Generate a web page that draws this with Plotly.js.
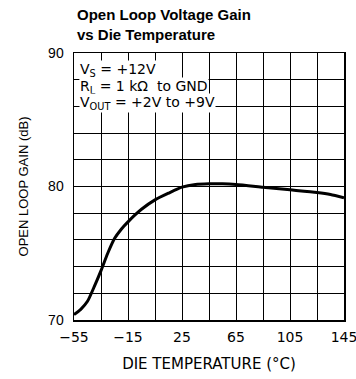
<!DOCTYPE html>
<html>
<head>
<meta charset="utf-8">
<script src="https://cdn.plot.ly/plotly-3.0.1.min.js"></script>
<style>html,body{margin:0;padding:0;background:#fff;}#chart{width:356px;height:379px;}</style>
</head>
<body>
<div id="chart"></div>
<script>
// Data
var temperature = [-55, -50, -45, -40, -35, -30, -25, -20, -15, -10, -5, 5, 15, 25, 35, 45, 55, 65, 85, 105, 125, 135, 145];
var gainDb      = [70.4, 70.8, 71.4, 72.5, 73.7, 75.0, 76.1, 76.8, 77.35, 77.85, 78.3, 79.0, 79.5, 79.95, 80.15, 80.2, 80.2, 80.15, 79.95, 79.75, 79.55, 79.4, 79.15];
var xTickVals = [-55, -15, 25, 65, 105, 145];
var xTickText = ['\u221255', '\u221215', '25', '65', '105', '145'];
var yTickVals = [70, 80, 90];
var titleText = '<b>Open Loop Voltage Gain<br>vs Die Temperature</b>';
var conditions = ['V<sub>S</sub> = +12V', 'R<sub>L</sub> = 1 k\u03A9  to GND', 'V<sub>OUT</sub> = +2V to +9V'];

var stroke = 'DejaVu Sans, sans-serif';
var arial = 'Liberation Sans, Arial, sans-serif';

var trace = {
  x: temperature, y: gainDb, type: 'scatter', mode: 'lines',
  line: {color: '#000', width: 3, shape: 'spline', smoothing: 0.6},
  hoverinfo: 'skip'
};

var condY = [0.936, 0.873, 0.812];
var annotations = conditions.map(function (t, i) {
  return {
    xref: 'paper', yref: 'paper', x: 0.02, y: condY[i], xanchor: 'left', yanchor: 'middle',
    text: t, showarrow: false, bgcolor: '#fff', borderpad: 0,
    font: {family: stroke, size: 14, color: '#000'}
  };
});
annotations.push({
  xref: 'paper', yref: 'paper', x: 0.004, y: 1.03, xanchor: 'left', yanchor: 'bottom',
  align: 'left', text: titleText, showarrow: false,
  font: {family: arial, size: 15, color: '#000'}
});

var layout = {
  width: 356, height: 379,
  margin: {l: 74, r: 12, t: 53, b: 59},
  paper_bgcolor: '#fff', plot_bgcolor: '#fff',
  showlegend: false,
  xaxis: {
    range: [-55, 145], tickvals: xTickVals, ticktext: xTickText,
    showgrid: true, gridcolor: '#000', gridwidth: 1,
    minor: {tick0: -55, dtick: 20, showgrid: true, gridcolor: '#000', gridwidth: 1},
    showline: true, linecolor: '#000', linewidth: 1.5, mirror: true,
    ticks: '', ticklabelstandoff: 4, zeroline: false, ticklabeloverflow: 'allow',
    tickfont: {family: stroke, size: 14, color: '#000'},
    title: {text: 'DIE TEMPERATURE (\u00B0C)', standoff: 14, font: {family: stroke, size: 15, color: '#000'}}
  },
  yaxis: {
    range: [70, 90], tickvals: yTickVals,
    showgrid: true, gridcolor: '#000', gridwidth: 1,
    minor: {tick0: 70, dtick: 2, showgrid: true, gridcolor: '#000', gridwidth: 1},
    showline: true, linecolor: '#000', linewidth: 1.5, mirror: true,
    ticks: '', ticklabelstandoff: 6, zeroline: false,
    tickfont: {family: arial, size: 14, color: '#000'},
    title: {text: 'OPEN LOOP GAIN (dB)', standoff: 16, font: {family: arial, size: 13, color: '#000'}}
  },
  annotations: annotations
};

Plotly.newPlot('chart', [trace], layout, {staticPlot: true, displayModeBar: false});
</script>
</body>
</html>
